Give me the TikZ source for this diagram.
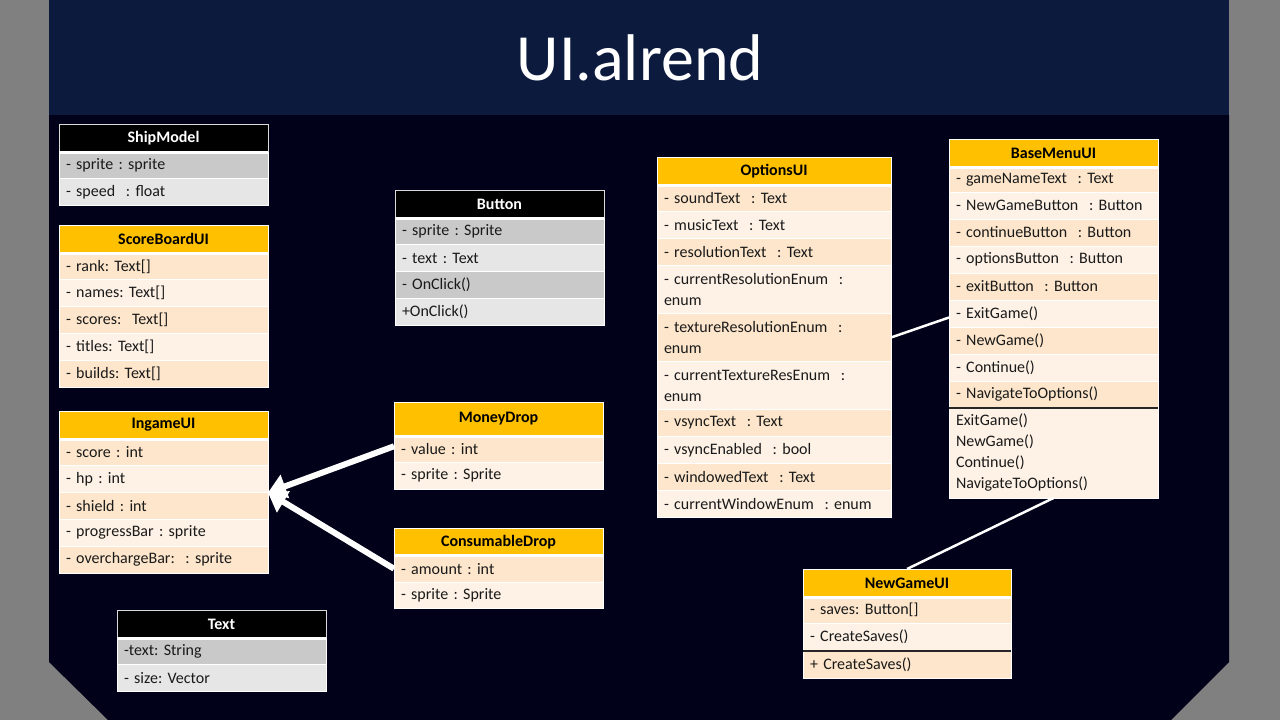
\documentclass[tikz,border=0pt]{standalone}
\usepackage{fontspec}
\setmainfont{Carlito}
\usetikzlibrary{arrows.meta}
\frenchspacing
\definecolor{pagegray}{HTML}{808080}
\definecolor{band}{HTML}{0C1A3E}
\definecolor{body}{HTML}{010119}
\definecolor{gold}{HTML}{FFC000}
\definecolor{peachd}{HTML}{FDE6CB}
\definecolor{peachl}{HTML}{FEF2E6}
\definecolor{grayd}{HTML}{C9C9C9}
\definecolor{grayl}{HTML}{E6E6E6}
\definecolor{txt}{HTML}{1A1A1A}
\newcommand\cellfont{\fontsize{16}{21}\selectfont\frenchspacing}
\tikzset{
  cell/.style={draw=white, line width=0.8pt, anchor=north west, outer sep=0pt,
    inner xsep=7pt, inner ysep=0pt, align=left, font=\cellfont, text=txt},
  hdr/.style={cell, align=center, font=\cellfont\bfseries},
  ohdr/.style={hdr, fill=gold, text=black},
  bhdr/.style={hdr, fill=black, text=white, draw=white!85!black},
  pd/.style={cell, fill=peachd},
  pl/.style={cell, fill=peachl},
  gd/.style={cell, fill=grayd},
  gl/.style={cell, fill=grayl},
  wa/.style={minimum width=209pt, text width=195pt},
  wo/.style={minimum width=234pt, text width=220pt},
  wn/.style={minimum width=208pt, text width=194pt},
  rh/.style={minimum height=#1pt},
  sepline/.style={white, line width=3pt},
  midline/.style={black!85, line width=1.5pt},
  assoc/.style={white, line width=2.5pt},
  gen/.style={white, line width=6pt, -{Triangle[length=18pt,width=24pt]}},
  titlestyle/.style={text=white, font=\fontsize{66}{70}\selectfont, inner sep=0pt}
}
\begin{document}
\begin{tikzpicture}[x=1pt, y=-1pt]
\useasboundingbox (0,0) rectangle (1280,720);
% background
\fill[pagegray] (0,0) rectangle (1280,720);
\fill[band] (49,0) rectangle (1229,115);
\fill[body] (49,115) -- (1229,115) -- (1229,662) -- (1171,720) -- (108,720) -- (49,662) -- cycle;
\node[titlestyle] (title) at (640,58) {UI.alrend};

% ShipModel
\node[bhdr, wa, rh=28] (sh) at (59,124) {ShipModel};
\node[gd, wa, rh=26.5] (sh1) at (sh.south west) {- sprite : sprite};
\node[gl, wa, rh=26.5] (sh2) at (sh1.south west) {- speed \ : float};
\draw[sepline] (sh.south west) -- (sh.south east);

% ScoreBoardUI
\node[ohdr, wa, rh=28] (sb) at (59,225) {ScoreBoardUI};
\node[pd, wa, rh=26.8] (sb1) at (sb.south west) {- rank: Text[]};
\node[pl, wa, rh=26.8] (sb2) at (sb1.south west) {- names: Text[]};
\node[pd, wa, rh=26.8] (sb3) at (sb2.south west) {- scores: \ Text[]};
\node[pl, wa, rh=26.8] (sb4) at (sb3.south west) {- titles: Text[]};
\node[pd, wa, rh=26.8] (sb5) at (sb4.south west) {- builds: Text[]};
\draw[sepline] (sb.south west) -- (sb.south east);

% IngameUI
\node[ohdr, wa, rh=28] (ig) at (59,411) {IngameUI};
\node[pd, wa, rh=26.8] (ig1) at (ig.south west) {- score : int};
\node[pl, wa, rh=26.8] (ig2) at (ig1.south west) {- hp : int};
\node[pd, wa, rh=26.8] (ig3) at (ig2.south west) {- shield : int};
\node[pl, wa, rh=26.8] (ig4) at (ig3.south west) {- progressBar : sprite};
\node[pd, wa, rh=26.8] (ig5) at (ig4.south west) {- overchargeBar: \ : sprite};
\draw[sepline] (ig.south west) -- (ig.south east);

% Text
\node[bhdr, wa, rh=28] (tx) at (117,610) {Text};
\node[gd, wa, rh=26.5] (tx1) at (tx.south west) {-text: String};
\node[gl, wa, rh=26.5] (tx2) at (tx1.south west) {- size: Vector};
\draw[sepline] (tx.south west) -- (tx.south east);

% Button
\node[bhdr, wa, rh=28] (bt) at (395,190) {Button};
\node[gd, wa, rh=26.8] (bt1) at (bt.south west) {- sprite : Sprite};
\node[gl, wa, rh=26.8] (bt2) at (bt1.south west) {- text : Text};
\node[gd, wa, rh=26.8] (bt3) at (bt2.south west) {- OnClick()};
\node[gl, wa, rh=26.8] (bt4) at (bt3.south west) {+OnClick()};
\draw[sepline] (bt.south west) -- (bt.south east);

% MoneyDrop
\node[ohdr, wa, rh=34] (md) at (394,402) {MoneyDrop};
\node[pd, wa, rh=26.5] (md1) at (md.south west) {- value : int};
\node[pl, wa, rh=26.5] (md2) at (md1.south west) {- sprite : Sprite};
\draw[sepline] (md.south west) -- (md.south east);

% ConsumableDrop
\node[ohdr, wa, rh=27.5] (cd) at (394,528) {ConsumableDrop};
\node[pd, wa, rh=26.5] (cd1) at (cd.south west) {- amount : int};
\node[pl, wa, rh=26.5] (cd2) at (cd1.south west) {- sprite : Sprite};
\draw[sepline] (cd.south west) -- (cd.south east);

% OptionsUI
\node[ohdr, wo, rh=28.5] (op) at (657,157) {OptionsUI};
\node[pd, wo, rh=26] (op1) at (op.south west) {- soundText \ : Text};
\node[pl, wo, rh=27] (op2) at (op1.south west) {- musicText \ : Text};
\node[pd, wo, rh=27] (op3) at (op2.south west) {- resolutionText \ : Text};
\node[pl, wo, rh=48] (op4) at (op3.south west) {- currentResolutionEnum \ :\\enum};
\node[pd, wo, rh=48] (op5) at (op4.south west) {- textureResolutionEnum \ :\\enum};
\node[pl, wo, rh=48] (op6) at (op5.south west) {- currentTextureResEnum \ :\\enum};
\node[pd, wo, rh=27] (op7) at (op6.south west) {- vsyncText \ : Text};
\node[pl, wo, rh=27] (op8) at (op7.south west) {- vsyncEnabled \ : bool};
\node[pd, wo, rh=27] (op9) at (op8.south west) {- windowedText \ : Text};
\node[pl, wo, rh=27] (op10) at (op9.south west) {- currentWindowEnum \ : enum};
\draw[sepline] (op.south west) -- (op.south east);

% BaseMenuUI
\node[ohdr, wa, rh=28] (bm) at (949,139) {BaseMenuUI};
\node[pd, wa, rh=25] (bm1) at (bm.south west) {- gameNameText \ : Text};
\node[pl, wa, rh=27] (bm2) at (bm1.south west) {- NewGameButton \ : Button};
\node[pd, wa, rh=27] (bm3) at (bm2.south west) {- continueButton \ : Button};
\node[pl, wa, rh=27] (bm4) at (bm3.south west) {- optionsButton \ : Button};
\node[pd, wa, rh=27] (bm5) at (bm4.south west) {- exitButton \ : Button};
\node[pl, wa, rh=27] (bm6) at (bm5.south west) {- ExitGame()};
\node[pd, wa, rh=27] (bm7) at (bm6.south west) {- NewGame()};
\node[pl, wa, rh=27] (bm8) at (bm7.south west) {- Continue()};
\node[pd, wa, rh=27] (bm9) at (bm8.south west) {- NavigateToOptions()};
\node[pl, wa, rh=90] (bm10) at (bm9.south west) {ExitGame()\\NewGame()\\Continue()\\NavigateToOptions()};
\draw[sepline] (bm.south west) -- (bm.south east);
\draw[midline] (bm9.south west) -- (bm9.south east);

% NewGameUI
\node[ohdr, wn, rh=28] (ng) at (803,569) {NewGameUI};
\node[pd, wn, rh=26] (ng1) at (ng.south west) {- saves: Button[]};
\node[pl, wn, rh=28] (ng2) at (ng1.south west) {- CreateSaves()};
\node[pd, wn, rh=27] (ng3) at (ng2.south west) {+ CreateSaves()};
\draw[sepline] (ng.south west) -- (ng.south east);
\draw[midline] (ng2.south west) -- (ng2.south east);

% connectors
\draw[assoc] (op5.east) -- ([yshift=-4pt]bm6.west);
\draw[assoc] (bm10.south) -- (ng.north);
\draw[gen] ([yshift=3pt]md1.west) -- (ig2.south east);
\draw[gen] (cd1.west) -- (ig2.south east);
\end{tikzpicture}
\end{document}
